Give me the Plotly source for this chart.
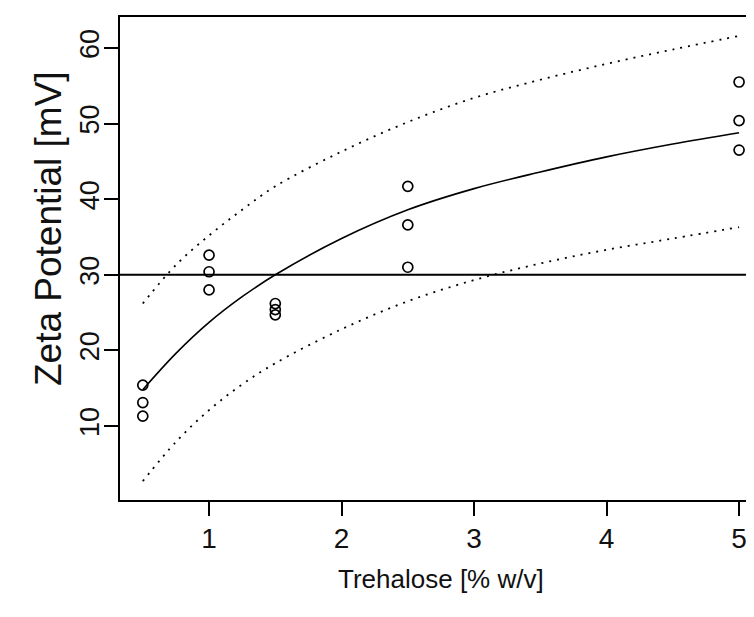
import plotly.graph_objects as go

# Observed data
obs_x = [0.5, 0.5, 0.5, 1, 1, 1, 1.5, 1.5, 1.5, 2.5, 2.5, 2.5, 5, 5, 5]
obs_y = [15.4, 13.1, 11.3, 32.6, 30.4, 28.0, 26.2, 25.4, 24.7, 41.7, 36.6, 31.0, 55.5, 50.4, 46.5]

# Fitted curve and confidence band
curve_x = [0.5, 0.75, 1.0, 1.25, 1.5, 2.0, 2.5, 3.0, 3.5, 4.0, 4.5, 5.0]
fit_y   = [14.8, 19.6, 23.7, 27.1, 30.0, 34.8, 38.6, 41.4, 43.6, 45.6, 47.3, 48.8]
upper_y = [26.2, 31.3, 35.2, 38.6, 41.7, 46.3, 50.2, 53.4, 55.8, 57.9, 59.8, 61.6]
lower_y = [2.7, 7.9, 12.1, 15.5, 18.3, 22.8, 26.5, 29.3, 31.5, 33.3, 34.8, 36.3]

threshold = 30

x_ticks = [1, 2, 3, 4, 5]
y_ticks = [10, 20, 30, 40, 50, 60]

FONT = "Liberation Sans, Arial, sans-serif"
L, T, B = 112, 9, 125
PW, PH = 754 - L, 617 - T - B

fig = go.Figure()
fig.add_trace(go.Scatter(x=curve_x, y=upper_y, mode="lines", line=dict(color="black", width=1.8, dash="2px,6px", shape="spline"), hoverinfo="skip"))
fig.add_trace(go.Scatter(x=curve_x, y=lower_y, mode="lines", line=dict(color="black", width=1.8, dash="2px,6px", shape="spline"), hoverinfo="skip"))
fig.add_trace(go.Scatter(x=curve_x, y=fit_y, mode="lines", line=dict(color="black", width=1.6, shape="spline")))
fig.add_trace(go.Scatter(x=obs_x, y=obs_y, mode="markers",
                         marker=dict(symbol="circle-open", size=10, color="black", line=dict(width=1.7))))
fig.add_hline(y=threshold, line=dict(color="black", width=2))

fig.update_layout(
    width=754, height=617,
    margin=dict(l=L, r=0, t=T, b=B),
    paper_bgcolor="white", plot_bgcolor="white",
    showlegend=False,
    font=dict(family=FONT, color="#111111"),
)
fig.update_xaxes(range=[0.328, 5.173], tickvals=x_ticks, ticktext=[str(v) for v in x_ticks],
                 showgrid=False, zeroline=False, showline=True, linecolor="black", linewidth=2, mirror=True,
                 ticks="outside", ticklen=14, tickwidth=1.5, tickcolor="black",
                 tickfont=dict(size=28, family=FONT, color="#111111"), ticklabelstandoff=-2)
fig.update_yaxes(range=[0.21, 64.1], tickvals=y_ticks, ticktext=[str(v) for v in y_ticks],
                 showgrid=False, zeroline=False, showline=True, linecolor="black", linewidth=2,
                 ticks="outside", ticklen=14, tickwidth=1.5, tickcolor="black", tickangle=-90,
                 tickfont=dict(size=27, family=FONT, color="#111111"), ticklabelstandoff=-6)

fig.add_annotation(text="Trehalose [% w/v]", xref="paper", yref="paper", x=(433 - L) / PW, y=(T + PH - 571) / PH,
                   showarrow=False, xanchor="center", yanchor="middle", font=dict(size=26, family=FONT, color="#111111"))
fig.add_annotation(text="Zeta Potential [mV]", xref="paper", yref="paper", x=(40 - L) / PW, y=(T + PH - 221) / PH,
                   showarrow=False, xanchor="center", yanchor="middle", textangle=-90,
                   font=dict(size=37, family=FONT, color="#111111"))

fig.write_html("out.html")
